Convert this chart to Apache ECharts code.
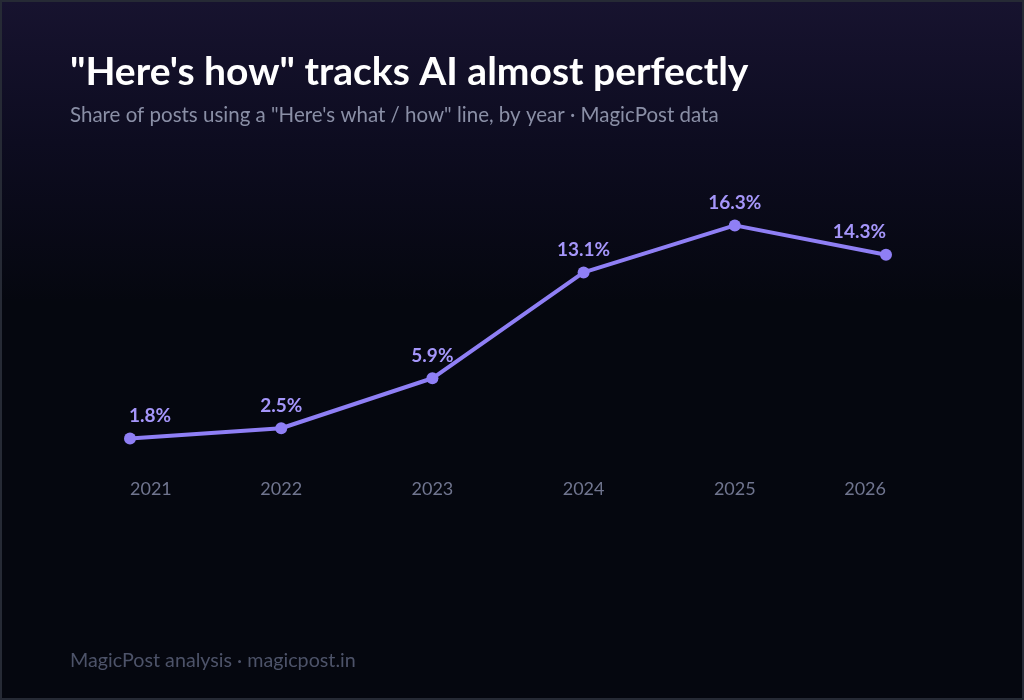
<!DOCTYPE html>
<html>
<head>
<meta charset="utf-8">
<script src="https://cdn.jsdelivr.net/npm/echarts@6/dist/echarts.min.js"></script>
<style>
html,body{margin:0;padding:0;background:#05070f;}
#wrap{width:1024px;height:700px;box-sizing:border-box;border:2px solid #262a35;
 background:linear-gradient(180deg,#17132f 0px,#0d0c20 140px,#05070f 300px,#05070f 700px);}
#chart{width:1020px;height:696px;}
</style>
</head>
<body>
<div id="wrap"><div id="chart"></div></div>
<script>
const years = ['2021','2022','2023','2024','2025','2026'];
const shares = [1.8, 2.5, 5.9, 13.1, 16.3, 14.3];
const titleText = '"Here\'s how" tracks AI almost perfectly';
const subtitleText = 'Share of posts using a "Here\'s what / how" line, by year · MagicPost data';
const footerText = 'MagicPost analysis · magicpost.in';

const seriesData = shares.map((v, i) => {
  const d = {value: v};
  if (i === 0) d.label = {align: 'left', offset: [-1, 0]};
  if (i === shares.length - 1) d.label = {align: 'right', offset: [0, 0]};
  return d;
});

const chart = echarts.init(document.getElementById('chart'), null, {renderer:'canvas'});
chart.setOption({
  backgroundColor: 'transparent',
  textStyle: {fontFamily: 'Lato'},
  title: [
    {text: titleText, left: 63, top: 46,
     textStyle:{color:'#ffffff', fontSize:39, fontWeight:'bold', fontFamily:'Lato'}},
    {text: subtitleText, left: 63, top: 98,
     textStyle:{color:'#8a8fa6', fontSize:20.5, fontWeight:'normal', fontFamily:'Lato'}},
    {text: footerText, left: 63, top: 644,
     textStyle:{color:'#4d5369', fontSize:19.7, fontWeight:'normal', fontFamily:'Lato'}}
  ],
  grid: {left: 128, right: 136, top: 169, bottom: 233},
  xAxis: {
    type: 'category', data: years, boundaryGap: false,
    axisLine:{show:false}, axisTick:{show:false}, splitLine:{show:false},
    axisLabel:{color:'#70758f', fontSize:18, margin:15, fontFamily:'Lato',
      alignMinLabel:'left', alignMaxLabel:'right'}
  },
  yAxis: {
    type: 'value', min: 0, max: 20, show: false
  },
  series: [{
    type: 'line', data: seriesData,
    lineStyle:{color:'#8f7ff5', width:4},
    itemStyle:{color:'#8f7ff5'},
    symbol:'circle', symbolSize:12, showSymbol:true,
    label:{show:true, position:'top', distance:7,
      formatter: p => p.value.toFixed(1) + '%',
      color:'#a596fa', fontSize:19, fontWeight:'bold', fontFamily:'Lato'},
    animation:false
  }],
  animation:false
});
</script>
</body>
</html>
